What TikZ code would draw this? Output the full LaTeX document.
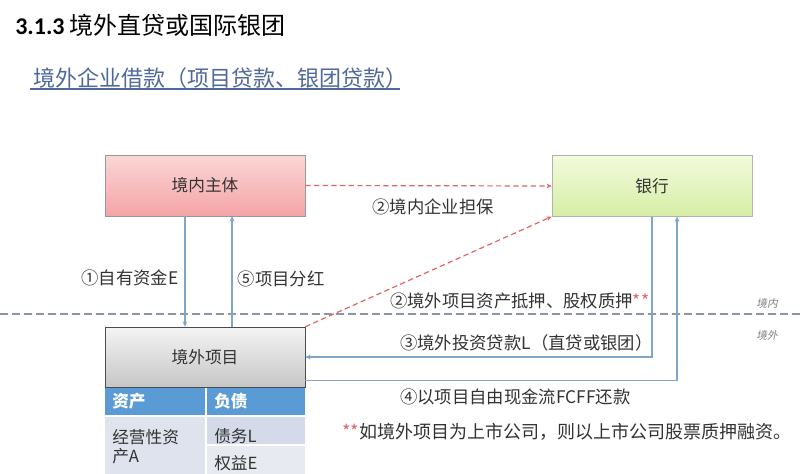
\documentclass[tikz,border=0pt]{standalone}
\usepackage{fontspec}
\setmainfont{Noto Sans CJK SC}
\newfontfamily\latinbold{Carlito}
\newfontfamily\slantcjk[FakeSlant=0.2]{Noto Sans CJK SC}
\usetikzlibrary{arrows.meta,calc}
\definecolor{txt}{HTML}{333333}
\definecolor{subblue}{HTML}{4F6A9A}
\definecolor{pinkA}{HTML}{FBD6D6}
\definecolor{pinkB}{HTML}{F4A4A6}
\definecolor{greenA}{HTML}{F2FADC}
\definecolor{greenB}{HTML}{D6EEA6}
\definecolor{grayA}{HTML}{F4F4F4}
\definecolor{grayB}{HTML}{C6C6C6}
\definecolor{hdr}{HTML}{5B9BD5}
\definecolor{cellA}{HTML}{DEE3ED}
\definecolor{cellB}{HTML}{D4DAE7}
\definecolor{cellC}{HTML}{E7EAF1}
\definecolor{bluel}{HTML}{7FA6C8}
\definecolor{redd}{HTML}{E06666}
\definecolor{bord}{HTML}{8A96A4}
\begin{document}
\begin{tikzpicture}[x=0.75pt,y=-0.75pt,
  box/.style={minimum width=150pt, minimum height=45.5pt, inner sep=0pt, text=txt,
    font=\fontsize{12.5}{15}\selectfont},
  lbl/.style={text=txt, inner sep=0pt, font=\fontsize{13}{15}\selectfont},
  cell/.style={text=txt, inner sep=0pt, anchor=west, font=\fontsize{12.5}{15}\selectfont},
  bluearr/.style={draw=bluel, line width=0.9pt, -{Stealth[length=4pt,width=3.5pt]}},
  redarr/.style={draw=redd, line width=0.9pt, dash pattern=on 4pt off 2.5pt, -{Stealth[length=4pt,width=3.5pt]}},
  cornerlbl/.style={text=gray, inner sep=0pt, font=\slantcjk\fontsize{8}{9}\selectfont}]
\useasboundingbox (0,0) rectangle (800,474);
\fill[white] (0,0) rectangle (800,474);

% titles
\node[anchor=west, inner sep=0pt, text=black, font=\fontsize{18}{21}\selectfont] (title) at (15,25) {{\latinbold\bfseries 3.1.3} 境外直贷或国际银团};
\node[anchor=west, inner sep=0pt, text=subblue, font=\fontsize{16.5}{19}\selectfont] (sub) at (33,78) {境外企业借款（项目贷款、银团贷款）};
\draw[subblue, line width=0.8pt] (30,89) -- (400,89);

% border line
\draw[bord, line width=0.8pt, dash pattern=on 6pt off 3pt] (0,314) -- (800,314);
\node[cornerlbl] (in) at (767,303) {境内};
\node[cornerlbl] (out) at (767,335) {境外};

% boxes
\node[box, draw=gray!80, top color=pinkA, bottom color=pinkB] (dom) at (205,185.5) {境内主体};
\node[box, draw=gray!60, top color=greenA, bottom color=greenB] (bank) at (652,186) {银行};
\node[box, draw=black!70, top color=grayA, bottom color=grayB, minimum height=45pt] (ovs) at (205,357) {境外项目};

% table
\fill[hdr] (105,388) rectangle (205,415);
\fill[hdr] (207,388) rectangle (305,415);
\fill[cellA] (105,417) rectangle (205,474);
\fill[cellB] (207,417) rectangle (305,444);
\fill[cellC] (207,446) rectangle (305,474);
\node[cell, text=white, font=\bfseries\fontsize{12.5}{15}\selectfont] (h1) at (112,401) {资产};
\node[cell, text=white, font=\bfseries\fontsize{12.5}{15}\selectfont] (h2) at (214,401) {负债};
\node[cell] (c1) at (112,437) {经营性资};
\node[cell] (c2) at (112,456) {产A};
\node[cell] (c3) at (214,436) {债务L};
\node[cell] (c4) at (214,463) {权益E};

% coordinates
\coordinate (d1) at ($(dom.south west)!0.4!(dom.south east)$);
\coordinate (d5) at ($(dom.south west)!0.635!(dom.south east)$);
\coordinate (b4) at ($(bank.south west)!0.625!(bank.south east)$);
\coordinate (r4) at ($(ovs.south east)+(0,-7)$);

% connectors
\draw[bluearr] (d1) -- (d1 |- ovs.north);
\draw[bluearr] (d5 |- ovs.north) -- (d5);
\draw[bluearr] (bank.south) |- (ovs.east);
\draw[bluearr] (r4) -| (b4);
\draw[redarr] (dom.east) -- (bank.west);
\draw[redarr] (ovs.north east) -- (bank.south west);

% labels
\node[lbl] (l2a) at (433,207) {②境内企业担保};
\node[lbl] (l1) at (130,278) {①自有资金E};
\node[lbl] (l5) at (281,279) {⑤项目分红};
\node[lbl, anchor=west] (l2b) at (390,301) {②境外项目资产抵押、股权质押\textcolor{redd}{**}};
\node[lbl, anchor=west] (l3) at (400,343) {③境外投资贷款L（直贷或银团）};
\node[lbl, anchor=west] (l4) at (400,397) {④以项目自由现金流FCFF还款};
\node[lbl, anchor=west, font=\fontsize{13.5}{16}\selectfont] (note) at (342,432) {\textcolor{redd}{**}如境外项目为上市公司，则以上市公司股票质押融资。};
\end{tikzpicture}
\end{document}
